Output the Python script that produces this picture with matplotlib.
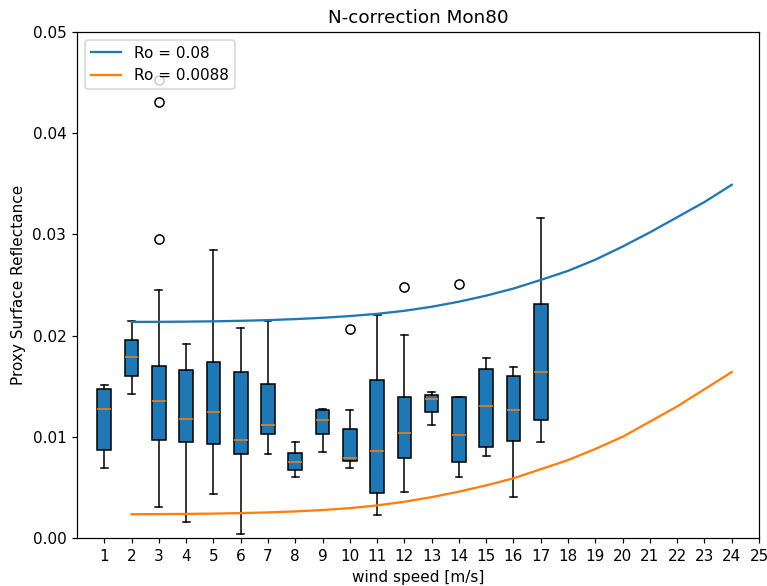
import matplotlib
matplotlib.use("Agg")
import matplotlib.pyplot as plt

# ---------------------------------------------------------------------------
# Box statistics per wind speed bin
# ---------------------------------------------------------------------------
positions = list(range(1, 18))
whislo = [0.0069, 0.0142, 0.0031, 0.0016, 0.0043, 0.0004, 0.0083, 0.0060, 0.0085,
          0.0069, 0.0023, 0.0045, 0.0112, 0.0060, 0.0081, 0.0041, 0.0095]
q1 = [0.0087, 0.0160, 0.0097, 0.0095, 0.0093, 0.0083, 0.0103, 0.0067, 0.0103,
      0.0076, 0.0044, 0.0079, 0.0125, 0.0075, 0.0090, 0.0096, 0.0117]
med = [0.0127, 0.0179, 0.0135, 0.0118, 0.0125, 0.0097, 0.0112, 0.0075, 0.0117,
       0.0079, 0.0086, 0.0104, 0.0137, 0.0102, 0.0130, 0.0126, 0.0164]
q3 = [0.0147, 0.0196, 0.0170, 0.0166, 0.0174, 0.0164, 0.0152, 0.0084, 0.0126,
      0.0108, 0.0156, 0.0139, 0.0141, 0.0139, 0.0167, 0.0160, 0.0231]
whishi = [0.0151, 0.0214, 0.0245, 0.0192, 0.0285, 0.0208, 0.0214, 0.0095, 0.0127,
          0.0126, 0.0220, 0.0201, 0.0144, 0.0139, 0.0178, 0.0169, 0.0316]
fliers = [[], [], [0.0453, 0.0431, 0.0295], [], [], [], [], [], [],
          [0.0207], [], [0.0248], [], [0.0251], [], [], []]

# Model curves
wind = list(range(2, 25))
ro_008 = [0.02135, 0.02136, 0.02138, 0.02141, 0.02146, 0.02153, 0.02163, 0.02176,
          0.02193, 0.02215, 0.02245, 0.02285, 0.02335, 0.02395, 0.02465, 0.0255,
          0.0264, 0.0275, 0.0288, 0.0302, 0.0317, 0.0332, 0.0349]
ro_00088 = [0.00235, 0.00236, 0.00238, 0.00241, 0.00246, 0.00253, 0.00263, 0.00276,
            0.00295, 0.00322, 0.00358, 0.00404, 0.00458, 0.0052, 0.0059, 0.0068,
            0.0077, 0.0088, 0.0100, 0.0115, 0.0130, 0.0147, 0.0164]

stats = [
    {"whislo": lo, "q1": a, "med": m, "q3": b, "whishi": hi, "fliers": f}
    for lo, a, m, b, hi, f in zip(whislo, q1, med, q3, whishi, fliers)
]

# slightly enlarged rendering, like the (upscaled) original screenshot
DPI = 110
fig = plt.figure(figsize=(767 / DPI, 586 / DPI), dpi=DPI)
ax = fig.add_axes([0.1004, 0.0819, 0.8892, 0.8635])

ax.bxp(stats, positions=positions, patch_artist=True, widths=0.5)
ax.plot(wind, ro_008, color="C0", label="Ro = 0.08")
ax.plot(wind, ro_00088, color="C1", label="Ro = 0.0088")

ax.set_xlim(0, 25)
ax.set_ylim(0, 0.05)
ax.set_xticks(range(1, 26))
ax.set_xticklabels([str(i) for i in range(1, 26)])
ax.set_yticks([0.0, 0.01, 0.02, 0.03, 0.04, 0.05])
ax.set_xlabel("wind speed [m/s]")
ax.set_ylabel("Proxy Surface Reflectance")
ax.set_title("N-correction Mon80")
ax.legend(loc="upper left")

fig.savefig("out.png", dpi=DPI)
